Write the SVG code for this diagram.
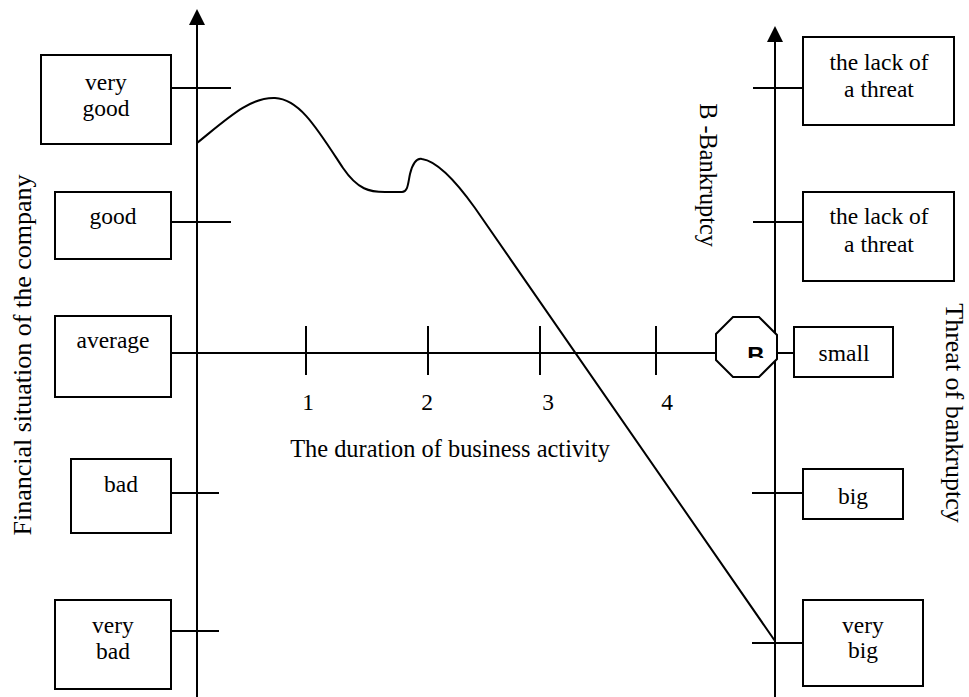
<svg xmlns="http://www.w3.org/2000/svg" width="969" height="697" viewBox="0 0 969 697">
<style>
.ln{stroke:#000;stroke-width:2;fill:none}
.bx{stroke:#000;stroke-width:2;fill:#fff}
.t{font-family:"Liberation Serif","Times New Roman",serif;font-size:23.5px;fill:#000;text-anchor:middle}
.big{font-size:26px}
</style>
<defs>
<clipPath id="clipB"><rect x="730" y="330" width="45" height="28"/></clipPath>
</defs>
<rect width="969" height="697" fill="#fff"/>
<g id="connectors">
<line class="ln" x1="197" y1="22" x2="197" y2="697"/>
<polygon points="197,9 189,25 205,25" fill="#000"/>
<line class="ln" x1="775" y1="38" x2="775" y2="697"/>
<polygon points="775,26 767,42 783,42" fill="#000"/>
<line class="ln" x1="171" y1="88" x2="231" y2="88"/>
<line class="ln" x1="171" y1="222" x2="231" y2="222"/>
<line class="ln" x1="171" y1="353" x2="716" y2="353"/>
<line class="ln" x1="171" y1="493" x2="219" y2="493"/>
<line class="ln" x1="171" y1="631" x2="219" y2="631"/>
<line class="ln" x1="306" y1="326" x2="306" y2="375"/>
<line class="ln" x1="428" y1="326" x2="428" y2="375"/>
<line class="ln" x1="540" y1="326" x2="540" y2="375"/>
<line class="ln" x1="656" y1="326" x2="656" y2="375"/>
<line class="ln" x1="753" y1="88" x2="803" y2="88"/>
<line class="ln" x1="753" y1="222" x2="803" y2="222"/>
<line class="ln" x1="777" y1="353" x2="794" y2="353"/>
<line class="ln" x1="752" y1="493" x2="803" y2="493"/>
<line class="ln" x1="752" y1="643" x2="803" y2="643"/>
<path class="ln" d="M197,143 C228,118 250,97 275,98 C300,99 318,130 343,168 C358,190 370,192 385,192 L402,192 C408,192 408,183 410,174 C413,162 417,158 422,159 C436,161 455,180 475,208 L775,641"/>
</g>
<g id="n-verygood"><rect class="bx" x="41" y="55" width="130" height="89"/><text class="t" x="106" y="90">very</text><text class="t" x="106" y="116">good</text></g>
<g id="n-good"><rect class="bx" x="55" y="192" width="116" height="67"/><text class="t" x="113" y="224">good</text></g>
<g id="n-average"><rect class="bx" x="55" y="316" width="116" height="81"/><text class="t" x="113" y="348">average</text></g>
<g id="n-bad"><rect class="bx" x="71" y="459" width="100" height="74"/><text class="t" x="121" y="492">bad</text></g>
<g id="n-verybad"><rect class="bx" x="55" y="600" width="116" height="89"/><text class="t" x="113" y="633">very</text><text class="t" x="113" y="659">bad</text></g>
<g id="n-lack1"><rect class="bx" x="803" y="37" width="151" height="88"/><text class="t" x="879" y="70">the lack of</text><text class="t" x="879" y="97">a threat</text></g>
<g id="n-lack2"><rect class="bx" x="803" y="192" width="151" height="89"/><text class="t" x="879" y="224">the lack of</text><text class="t" x="879" y="252">a threat</text></g>
<g id="n-small"><rect class="bx" x="794" y="327" width="99" height="50"/><text class="t" x="844" y="361">small</text></g>
<g id="n-big"><rect class="bx" x="803" y="469" width="100" height="50"/><text class="t" x="853" y="504">big</text></g>
<g id="n-verybig"><rect class="bx" x="803" y="600" width="120" height="86"/><text class="t" x="863" y="633">very</text><text class="t" x="863" y="658">big</text></g>
<g id="n-B">
<polygon class="ln" points="733,317 759,317 777,335 777,359 759,377 733,377 716,360 716,334" style="fill:#fff"/>
<text x="756" y="364" clip-path="url(#clipB)" style="font-family:'Liberation Sans',Arial,sans-serif;font-size:24px;font-weight:bold;text-anchor:middle">B</text>
</g>
<g id="labels">
<text class="t" x="308" y="410">1</text>
<text class="t" x="427" y="410">2</text>
<text class="t" x="548" y="410">3</text>
<text class="t" x="667" y="410">4</text>
<text class="t" x="450" y="457" style="font-size:24.4px">The duration of business activity</text>
<text class="t big" transform="translate(31,355) rotate(-90)">Financial situation of the company</text>
<text class="t" transform="translate(700,175) rotate(90)" style="font-size:24.3px">B -Bankruptcy</text>
<text class="t big" transform="translate(946,413) rotate(90)">Threat of bankruptcy</text>
</g>
</svg>
